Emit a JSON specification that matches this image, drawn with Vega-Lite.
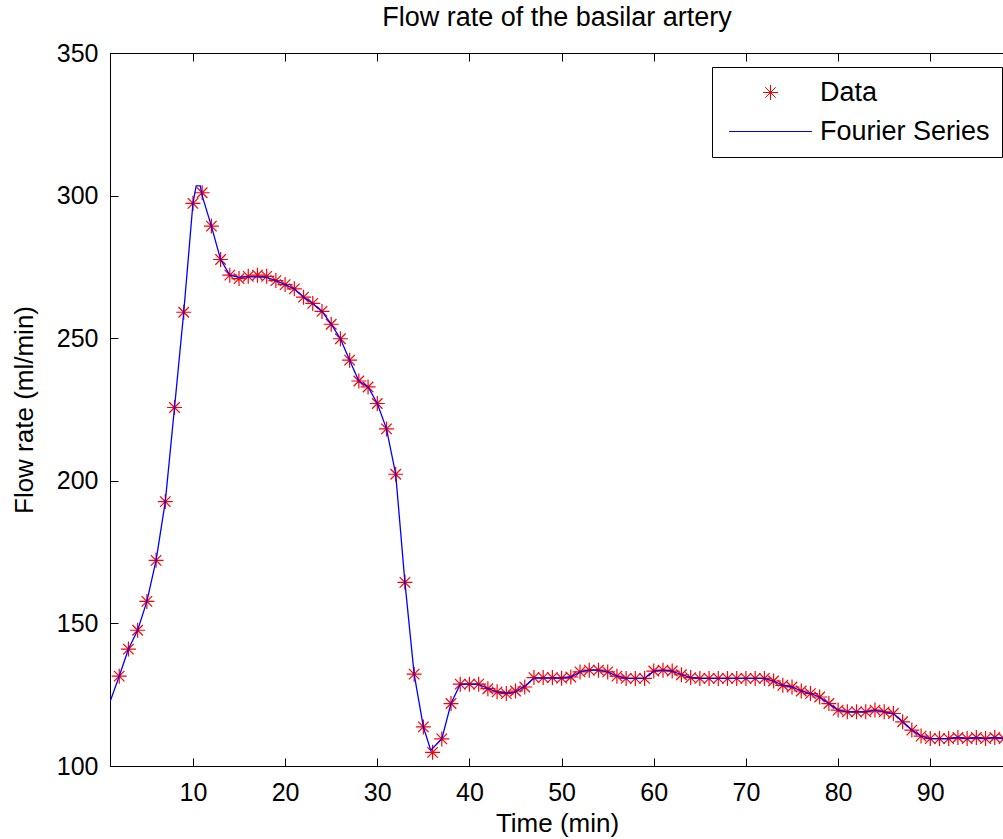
{
  "$schema": "https://vega.github.io/schema/vega-lite/v6.json",
  "width": 894,
  "height": 713,
  "autosize": {"type": "none"},
  "padding": {"left": 110, "top": 53, "right": 0, "bottom": 73},
  "background": "white",
  "title": {"text": "Flow rate of the basilar artery", "font": "Liberation Sans", "fontSize": 27, "fontWeight": "normal", "color": "black", "anchor": "middle", "offset": 9},
  "config": {
    "view": {"stroke": "black", "strokeWidth": 1},
    "axis": {"labelFont": "Liberation Sans", "labelFontSize": 25, "labelColor": "black", "titleFont": "Liberation Sans", "titleFontSize": 26, "titleFontWeight": "normal", "titleColor": "black", "domainColor": "black", "tickColor": "black", "tickSize": -8, "grid": false, "labelPadding": 22},
    "legend": {"labelFont": "Liberation Sans", "labelFontSize": 27, "labelColor": "black", "labelLimit": 400}
  },
  "datasets": {
    "pts": [
      {"t": 2, "v": 131.5}, {"t": 3, "v": 141.0}, {"t": 4, "v": 147.6}, {"t": 5, "v": 157.7}, {"t": 6, "v": 172.1},
      {"t": 7, "v": 192.7}, {"t": 8, "v": 225.7}, {"t": 9, "v": 259.1}, {"t": 10, "v": 297.3}, {"t": 11, "v": 301.0},
      {"t": 12, "v": 289.3}, {"t": 13, "v": 277.6}, {"t": 14, "v": 272.1}, {"t": 15, "v": 270.9}, {"t": 16, "v": 271.7},
      {"t": 17, "v": 272.1}, {"t": 18, "v": 271.7}, {"t": 19, "v": 270.2}, {"t": 20, "v": 268.8}, {"t": 21, "v": 267.3},
      {"t": 22, "v": 264.4}, {"t": 23, "v": 262.2}, {"t": 24, "v": 259.4}, {"t": 25, "v": 254.9}, {"t": 26, "v": 249.8},
      {"t": 27, "v": 242.3}, {"t": 28, "v": 235.0}, {"t": 29, "v": 232.9}, {"t": 30, "v": 227.1}, {"t": 31, "v": 218.2},
      {"t": 32, "v": 202.3}, {"t": 33, "v": 164.4}, {"t": 34, "v": 132.2}, {"t": 35, "v": 113.7}, {"t": 36, "v": 104.8},
      {"t": 37, "v": 109.5}, {"t": 38, "v": 121.9}, {"t": 39, "v": 128.7}, {"t": 40, "v": 128.7}, {"t": 41, "v": 128.7},
      {"t": 42, "v": 127.1}, {"t": 43, "v": 126.0}, {"t": 44, "v": 125.4}, {"t": 45, "v": 126.3}, {"t": 46, "v": 127.7},
      {"t": 47, "v": 131.0}, {"t": 48, "v": 131.0}, {"t": 49, "v": 131.0}, {"t": 50, "v": 130.8}, {"t": 51, "v": 131.2},
      {"t": 52, "v": 133.0}, {"t": 53, "v": 133.6}, {"t": 54, "v": 133.6}, {"t": 55, "v": 133.0}, {"t": 56, "v": 131.5},
      {"t": 57, "v": 130.7}, {"t": 58, "v": 130.7}, {"t": 59, "v": 130.7}, {"t": 60, "v": 133.3}, {"t": 61, "v": 133.6},
      {"t": 62, "v": 133.3}, {"t": 63, "v": 132.0}, {"t": 64, "v": 131.0}, {"t": 65, "v": 130.7}, {"t": 66, "v": 130.7},
      {"t": 67, "v": 130.7}, {"t": 68, "v": 130.7}, {"t": 69, "v": 130.7}, {"t": 70, "v": 130.7}, {"t": 71, "v": 130.7},
      {"t": 72, "v": 130.7}, {"t": 73, "v": 129.8}, {"t": 74, "v": 128.3}, {"t": 75, "v": 127.7}, {"t": 76, "v": 126.3},
      {"t": 77, "v": 125.4}, {"t": 78, "v": 124.2}, {"t": 79, "v": 121.9}, {"t": 80, "v": 119.6}, {"t": 81, "v": 119.0},
      {"t": 82, "v": 119.0}, {"t": 83, "v": 119.0}, {"t": 84, "v": 119.6}, {"t": 85, "v": 119.0}, {"t": 86, "v": 118.4},
      {"t": 87, "v": 115.5}, {"t": 88, "v": 112.6}, {"t": 89, "v": 110.5}, {"t": 90, "v": 109.6}, {"t": 91, "v": 109.6},
      {"t": 92, "v": 109.6}, {"t": 93, "v": 110.0}, {"t": 94, "v": 109.6}, {"t": 95, "v": 110.0}, {"t": 96, "v": 109.6},
      {"t": 97, "v": 110.0}, {"t": 98, "v": 109.6}
    ],
    "fit": [
      {"t": 1, "v": 122.5}, {"t": 2, "v": 131.5}, {"t": 3, "v": 141.0}, {"t": 4, "v": 147.6}, {"t": 5, "v": 157.7}, {"t": 6, "v": 172.1},
      {"t": 7, "v": 192.7}, {"t": 8, "v": 225.7}, {"t": 9, "v": 259.1}, {"t": 10, "v": 297.3}, {"t": 10.35, "v": 303.4}, {"t": 10.8, "v": 303.4}, {"t": 11, "v": 300.0},
      {"t": 12, "v": 289.3}, {"t": 13, "v": 277.6}, {"t": 14, "v": 272.1}, {"t": 15, "v": 271.3}, {"t": 16, "v": 271.5},
      {"t": 17, "v": 271.5}, {"t": 18, "v": 271.3}, {"t": 19, "v": 270.2}, {"t": 20, "v": 268.8}, {"t": 21, "v": 267.3},
      {"t": 22, "v": 264.4}, {"t": 23, "v": 262.2}, {"t": 24, "v": 259.4}, {"t": 25, "v": 254.9}, {"t": 26, "v": 249.8},
      {"t": 27, "v": 242.3}, {"t": 28, "v": 235.0}, {"t": 29, "v": 232.9}, {"t": 30, "v": 227.1}, {"t": 31, "v": 218.2},
      {"t": 32, "v": 202.3}, {"t": 33, "v": 164.4}, {"t": 34, "v": 132.2}, {"t": 35, "v": 113.7}, {"t": 35.8, "v": 105.5},
      {"t": 37, "v": 109.5}, {"t": 38, "v": 121.9}, {"t": 39, "v": 128.7}, {"t": 40, "v": 128.7}, {"t": 41, "v": 128.7},
      {"t": 42, "v": 127.1}, {"t": 43, "v": 126.0}, {"t": 44, "v": 125.6}, {"t": 45, "v": 126.0}, {"t": 46, "v": 128.0},
      {"t": 47, "v": 130.8}, {"t": 48, "v": 130.8}, {"t": 49, "v": 130.8}, {"t": 50, "v": 130.8}, {"t": 51, "v": 131.2},
      {"t": 52, "v": 133.0}, {"t": 53, "v": 133.6}, {"t": 54, "v": 133.6}, {"t": 55, "v": 133.0}, {"t": 56, "v": 131.5},
      {"t": 57, "v": 130.7}, {"t": 58, "v": 130.7}, {"t": 59, "v": 130.7}, {"t": 60, "v": 133.3}, {"t": 61, "v": 133.6},
      {"t": 62, "v": 133.3}, {"t": 63, "v": 132.0}, {"t": 64, "v": 131.0}, {"t": 65, "v": 130.7}, {"t": 66, "v": 130.7},
      {"t": 67, "v": 130.7}, {"t": 68, "v": 130.7}, {"t": 69, "v": 130.7}, {"t": 70, "v": 130.7}, {"t": 71, "v": 130.7},
      {"t": 72, "v": 130.7}, {"t": 73, "v": 129.8}, {"t": 74, "v": 128.3}, {"t": 75, "v": 127.7}, {"t": 76, "v": 126.3},
      {"t": 77, "v": 125.4}, {"t": 78, "v": 124.2}, {"t": 79, "v": 121.9}, {"t": 80, "v": 119.6}, {"t": 81, "v": 119.0},
      {"t": 82, "v": 119.0}, {"t": 83, "v": 119.0}, {"t": 84, "v": 119.6}, {"t": 85, "v": 119.0}, {"t": 86, "v": 118.4},
      {"t": 87, "v": 115.5}, {"t": 88, "v": 112.6}, {"t": 89, "v": 110.5}, {"t": 90, "v": 109.6}, {"t": 91, "v": 109.6},
      {"t": 92, "v": 109.6}, {"t": 93, "v": 110.0}, {"t": 94, "v": 109.6}, {"t": 95, "v": 110.0}, {"t": 96, "v": 109.6},
      {"t": 97, "v": 110.0}, {"t": 98, "v": 109.6}
    ]
  },
  "layer": [
    {
      "data": {"name": "pts"},
      "transform": [{"calculate": "'Data'", "as": "series"}],
      "mark": {"type": "point", "filled": false, "size": 225, "strokeWidth": 1.2, "opacity": 1, "clip": true},
      "encoding": {
        "x": {"field": "t", "type": "quantitative", "scale": {"domain": [1, 98], "nice": false, "zero": false},
              "axis": {"orient": "bottom", "values": [10, 20, 30, 40, 50, 60, 70, 80, 90], "title": "Time (min)", "titlePadding": 5}},
        "y": {"field": "v", "type": "quantitative", "scale": {"domain": [100, 350], "nice": false, "zero": false},
              "axis": {"values": [100, 150, 200, 250, 300, 350], "title": "Flow rate (ml/min)", "titlePadding": 19, "labelPadding": 20}},
        "color": {"field": "series", "type": "nominal",
                  "scale": {"domain": ["Data", "Fourier Series"], "range": ["#ff0000", "#0000ff"]},
                  "legend": {"title": null, "orient": "none", "legendX": 602, "legendY": 14, "strokeColor": "black", "fillColor": "white", "padding": 12, "rowPadding": 11, "symbolSize": 225, "symbolStrokeWidth": 1, "symbolOffset": 33, "labelOffset": 36, "cornerRadius": 0}},
        "shape": {"field": "series", "type": "nominal",
                  "scale": {"domain": ["Data", "Fourier Series"], "range": ["M-1,0L1,0M0,-1L0,1M-0.7,-0.7L0.7,0.7M-0.7,0.7L0.7,-0.7", "M-5.53,0L5.53,0"]},
                  "legend": {"title": null, "orient": "none", "legendX": 602, "legendY": 14, "strokeColor": "black", "fillColor": "white", "padding": 12, "rowPadding": 11, "symbolSize": 225, "symbolStrokeWidth": 1, "symbolOffset": 33, "labelOffset": 36, "cornerRadius": 0}}
      }
    },
    {
      "data": {"name": "fit"},
      "transform": [{"calculate": "'Fourier Series'", "as": "series"}],
      "mark": {"type": "line", "strokeWidth": 1.3, "clip": true},
      "encoding": {
        "x": {"field": "t", "type": "quantitative", "axis": {"orient": "top", "labels": false, "title": null, "values": [10, 20, 30, 40, 50, 60, 70, 80, 90]}},
        "y": {"field": "v", "type": "quantitative"},
        "color": {"field": "series", "type": "nominal"}
      }
    }
  ],
  "resolve": {"axis": {"x": "independent"}}
}
